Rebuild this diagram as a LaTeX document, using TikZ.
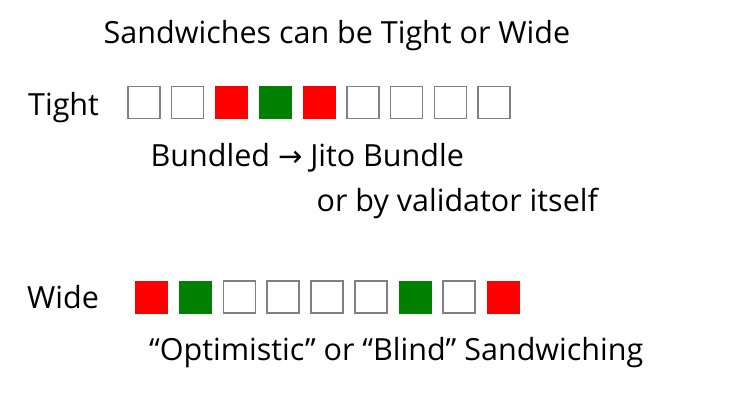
\documentclass[tikz,border=0pt]{standalone}
\usepackage{fontspec}
\setmainfont{Open Sans}
\newfontfamily\arrowfont{DejaVu Sans}
\begin{document}
\begin{tikzpicture}[x=1pt,y=-1pt,
  lbl/.style={anchor=base west,inner sep=0pt,font=\fontsize{30.5}{36}\selectfont},
  emptysq/.style={draw=black!50,line width=1.6pt,fill=white,minimum size=32pt,inner sep=0pt},
  redsq/.style={fill=red,minimum size=33pt,inner sep=0pt},
  greensq/.style={fill={rgb,255:red,0;green,128;blue,0},minimum size=33pt,inner sep=0pt}]
\useasboundingbox (0,0) rectangle (730,409);
\node[lbl] (title) at (103.5,43.3) {Sandwiches can be Tight or Wide};
\node[lbl] (tight) at (28,115.5) {Tight};
\node[lbl] (wide) at (27,308.3) {Wide};
\node[lbl] (bundled) at (150.5,166.7) {Bundled {\arrowfont\fontsize{29}{34}\selectfont →} Jito Bundle};
\node[lbl] (validator) at (316.5,211) {or by validator itself};
\node[lbl] (blind) at (149,360) {“Optimistic” or “Blind” Sandwiching};
\foreach \s [count=\i from 0] in {emptysq,emptysq,redsq,greensq,redsq,emptysq,emptysq,emptysq,emptysq}
  \node[\s] (t\i) at ({143.8+43.8*\i},102.7) {};
\foreach \s [count=\i from 0] in {redsq,greensq,emptysq,emptysq,emptysq,emptysq,greensq,emptysq,redsq}
  \node[\s] (w\i) at ({151.4+43.95*\i},297) {};
\end{tikzpicture}
\end{document}
